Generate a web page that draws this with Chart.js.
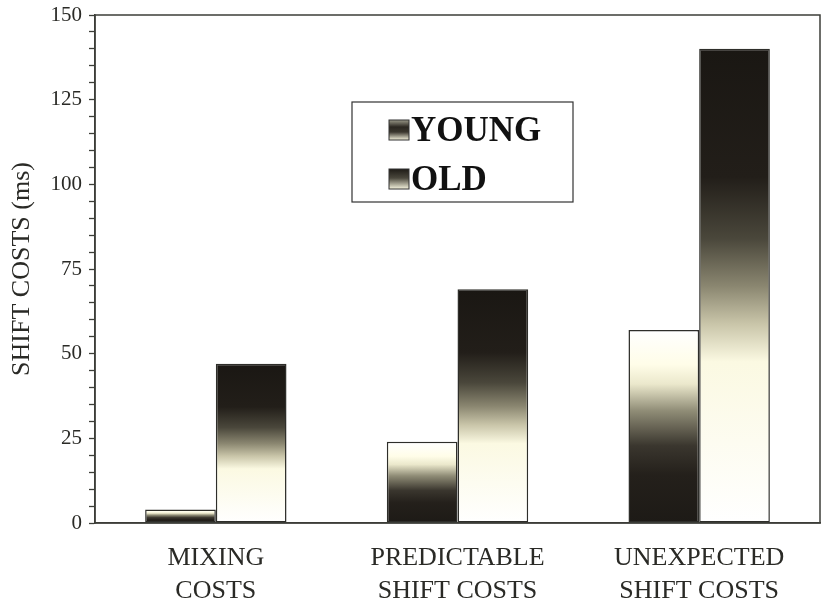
<!DOCTYPE html>
<html>
<head>
<meta charset="utf-8">
<script src="https://cdn.jsdelivr.net/npm/chart.js@4.4.1/dist/chart.umd.min.js"></script>
<style>
  html, body { margin: 0; padding: 0; background: #ffffff; }
  #wrap { width: 824px; height: 609px; position: relative; }
</style>
</head>
<body>
<div id="wrap"><canvas id="chart" width="824" height="609"></canvas></div>
<script>
// Category labels (two lines each)
const categories = [
  ["MIXING", "COSTS"],
  ["PREDICTABLE", "SHIFT COSTS"],
  ["UNEXPECTED", "SHIFT COSTS"]
];
// Series
const seriesNames = ["YOUNG", "OLD"];
const youngValues = [4, 24, 57];
const oldValues = [47, 69, 140];
// Value axis
const yMin = 0;
const yMax = 150;
const yMajorStep = 25;
const yMinorStep = 5;
const yTitle = "SHIFT COSTS (ms)";

const SERIF = '"Liberation Serif", "DejaVu Serif", serif';
const INK = '#2a2a26';
const AXIS = '#3c3e38';

// Shading ramps, from top of bar to its base
const youngStops = [
  [0.00, '#ffffff'], [0.18, '#fffde8'], [0.28, '#ebe8cc'], [0.42, '#8f8c76'],
  [0.60, '#3a362e'], [0.75, '#24201b'], [1.00, '#1d1a16']
];
const oldStops = [
  [0.00, '#1a1713'], [0.27, '#221e19'], [0.40, '#4a473b'], [0.50, '#8a8670'],
  [0.58, '#c9c5a9'], [0.66, '#fbf9e2'], [1.00, '#ffffff']
];

function barGradient(stops) {
  return function (ctx) {
    const chart = ctx.chart;
    const area = chart.chartArea;
    const y = chart.scales && chart.scales.y;
    if (!area || !y || ctx.raw === undefined) return stops[0][1];
    const top = y.getPixelForValue(ctx.raw);
    const base = y.getPixelForValue(0);
    const g = chart.ctx.createLinearGradient(0, top, 0, Math.max(base, top + 1));
    stops.forEach(s => g.addColorStop(s[0], s[1]));
    return g;
  };
}

// Frame around the plot and the boxed legend inside it
const framePlugin = {
  id: 'frame',
  afterDraw(chart) {
    const { ctx, chartArea: a } = chart;
    ctx.save();
    ctx.strokeStyle = AXIS;
    ctx.lineWidth = 1.5;
    ctx.strokeRect(a.left, a.top, a.right - a.left, a.bottom - a.top);

    // legend box
    const bx = 352, by = 102, bw = 221, bh = 100;
    ctx.fillStyle = '#ffffff';
    ctx.fillRect(bx, by, bw, bh);
    ctx.lineWidth = 1.2;
    ctx.strokeStyle = '#333333';
    ctx.strokeRect(bx, by, bw, bh);

    const rows = [
      { label: chart.data.datasets[0].label, y: 120 },
      { label: chart.data.datasets[1].label, y: 169 }
    ];
    rows.forEach((r, i) => {
      const sx = 389, sw = 20, sh = 20;
      const g = ctx.createLinearGradient(0, r.y, 0, r.y + sh);
      if (i === 0) {
        g.addColorStop(0, '#9a9888');
        g.addColorStop(0.35, '#2a2620');
        g.addColorStop(0.6, '#3a362e');
        g.addColorStop(1, '#f4f2dc');
      } else {
        g.addColorStop(0, '#1e1b16');
        g.addColorStop(0.45, '#4a473c');
        g.addColorStop(1, '#f6f4de');
      }
      ctx.fillStyle = g;
      ctx.fillRect(sx, r.y, sw, sh);
      ctx.strokeStyle = '#333333';
      ctx.lineWidth = 1;
      ctx.strokeRect(sx, r.y, sw, sh);
      ctx.fillStyle = '#111111';
      ctx.font = 'bold 35px ' + SERIF;
      ctx.textBaseline = 'alphabetic';
      ctx.textAlign = 'left';
      ctx.fillText(r.label, sx + sw + 2, r.y + sh + 1);
    });
    ctx.restore();
  }
};

new Chart(document.getElementById('chart'), {
  type: 'bar',
  data: {
    labels: categories,
    datasets: [
      {
        label: seriesNames[0],
        data: youngValues,
        backgroundColor: barGradient(youngStops),
        borderColor: '#2e2e2a',
        borderWidth: 1.5,
        borderSkipped: false
      },
      {
        label: seriesNames[1],
        data: oldValues,
        backgroundColor: barGradient(oldStops),
        borderColor: '#2e2e2a',
        borderWidth: 1.5,
        borderSkipped: false
      }
    ]
  },
  options: {
    responsive: false,
    animation: false,
    events: [],
    layout: { padding: { left: 0, right: 4, top: 15, bottom: 0 } },
    datasets: {
      bar: { categoryPercentage: 0.585, barPercentage: 1.0 }
    },
    plugins: {
      legend: { display: false },
      tooltip: { enabled: false },
      title: { display: false }
    },
    scales: {
      x: {
        grid: { display: false, drawTicks: false },
        border: { display: true, color: AXIS, width: 1.5 },
        ticks: {
          color: INK,
          font: { family: SERIF, size: 26, lineHeight: 1.25 },
          padding: 19,
          maxRotation: 0,
          autoSkip: false
        },
        afterFit(scale) {
          scale.height = 86;
          scale.paddingLeft = 0;
          scale.paddingRight = 0;
        }
      },
      y: {
        min: yMin,
        max: yMax,
        grid: {
          drawOnChartArea: false,
          drawTicks: true,
          tickLength: 6,
          color: AXIS,
          tickWidth: 1.3
        },
        border: { display: true, color: AXIS, width: 1.5 },
        ticks: {
          stepSize: yMinorStep,
          color: INK,
          font: { family: SERIF, size: 21 },
          padding: 7,
          autoSkip: false,
          callback(value) {
            return value % yMajorStep === 0 ? String(value) : '';
          }
        },
        title: {
          display: true,
          text: yTitle,
          color: INK,
          font: { family: SERIF, size: 26 },
          padding: { top: 7, bottom: 0 }
        },
        afterFit(scale) {
          scale.width = 95;
          scale.paddingTop = 0;
          scale.paddingBottom = 0;
        }
      }
    }
  },
  plugins: [framePlugin]
});
</script>
</body>
</html>
